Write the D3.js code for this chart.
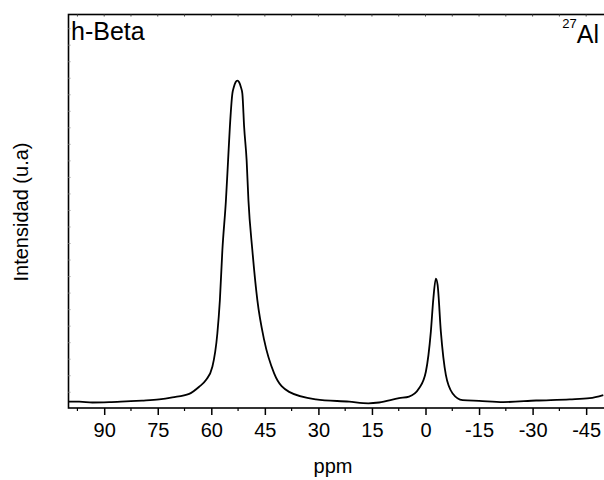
<!DOCTYPE html>
<html>
<head>
<meta charset="utf-8">
<script src="https://cdn.jsdelivr.net/npm/d3@7"></script>
<style>
  body { margin: 0; background: #fff; }
  svg { display: block; }
  svg text { font-family: Arial, "Liberation Sans", sans-serif; fill: #000; }
</style>
</head>
<body>
<div class="canvas"></div>
<script>
// spectrum: chemical shift (ppm) and intensity (a.u.)
const shift = [100, 97, 93.3, 88.6, 83.9, 79.4, 74.6, 70.9, 66.2, 63.4, 61.5, 59.7,
  58.3, 57.6, 56.9, 55.9, 55.3, 54.8, 54.1, 53.7, 53.2, 52.7, 52.2, 51.7, 51.3, 50.8,
  50.1, 49.6, 48.5, 47.1, 45.2, 42.4, 38.2, 30.7, 21.4, 16, 13, 7.4, 4.6, 1.8, -0.1,
  -1.5, -2.2, -2.9, -3.4, -4.3, -5.7, -7.6, -10.4, -15, -21.8, -31, -40.4, -46, -49.8];
const intensity = [1.6, 1.6, 1.4, 1.5, 1.7, 1.9, 2.2, 2.7, 3.6, 5.4, 7.1, 10.5,
  19.0, 27.4, 40.1, 52.8, 62.9, 71.4, 79.9, 81.5, 82.8, 83.2, 82.8, 81.5, 79.9, 71.4,
  62.9, 52.8, 40.1, 27.4, 17.3, 8.8, 4.1, 2.2, 1.6, 1.2, 1.4, 2.5, 2.9, 5.0, 9.2,
  19.4, 27.8, 32.9, 31.2, 19.4, 8.4, 3.7, 2.0, 1.8, 1.5, 1.9, 2.2, 2.5, 3.3];
const xTicks = [90, 75, 60, 45, 30, 15, 0, -15, -30, -45];
const xMinor = [97.5, 82.5, 67.5, 52.5, 37.5, 22.5, 7.5, -7.5, -22.5, -37.5];

const width = 604;
const height = 480;
const margin = { top: 14.5, right: 0, bottom: 72, left: 68.5 };
const innerWidth = width - margin.left - margin.right;
const innerHeight = height - margin.top - margin.bottom;

const svg = d3
  .select(".canvas")
  .append("svg")
  .attr("width", width)
  .attr("height", height);

const x = d3.scaleLinear().domain([100, -50]).range([margin.left, width]);
const y = d3.scaleLinear().domain([0, 100]).range([height - margin.bottom, margin.top]);

// spectrum
const line = d3
  .line()
  .x((d) => x(d[0]))
  .y((d) => y(d[1]))
  .curve(d3.curveMonotoneX);

svg
  .append("path")
  .datum(d3.zip(shift, intensity))
  .attr("fill", "none")
  .attr("stroke", "#000")
  .attr("stroke-width", 1.8)
  .attr("d", line);

// frame
svg
  .append("rect")
  .attr("x", margin.left)
  .attr("y", margin.top)
  .attr("width", innerWidth + 2)
  .attr("height", innerHeight)
  .attr("fill", "none")
  .attr("stroke", "#000")
  .attr("stroke-width", 1.6);

// bottom axis
const bottom = svg
  .append("g")
  .attr("transform", `translate(0, ${height - margin.bottom})`);

bottom
  .call(d3.axisBottom(x).tickValues(xTicks).tickSize(7).tickPadding(8).tickFormat((d) => String(d)))
  .call((g) => g.select(".domain").remove())
  .call((g) => g.selectAll(".tick line").attr("stroke-width", 1.5))
  .call((g) => g.selectAll(".tick text").attr("font-size", 20).attr("font-family", "Arial, 'Liberation Sans', sans-serif"));

bottom
  .selectAll(".minor")
  .data(xMinor)
  .enter()
  .append("line")
  .attr("x1", x)
  .attr("x2", x)
  .attr("y1", 0)
  .attr("y2", 3)
  .attr("stroke", "#000")
  .attr("stroke-width", 1.2);

// small inner ticks on top
svg
  .append("g")
  .selectAll("line")
  .data(xTicks.concat(xMinor))
  .enter()
  .append("line")
  .attr("x1", x)
  .attr("x2", x)
  .attr("y1", margin.top)
  .attr("y2", margin.top + 2)
  .attr("stroke", "#444")
  .attr("stroke-width", 1);

// faint inner ticks on the left
svg
  .append("g")
  .selectAll("line")
  .data(d3.range(4, 100, 4.2))
  .enter()
  .append("line")
  .attr("x1", margin.left)
  .attr("x2", margin.left + 2)
  .attr("y1", y)
  .attr("y2", y)
  .attr("stroke", "#999")
  .attr("stroke-width", 1);

// labels
svg
  .append("text")
  .attr("x", 333)
  .attr("y", 473)
  .attr("text-anchor", "middle")
  .attr("font-size", 20)
  .text("ppm");

svg
  .append("text")
  .attr("transform", `translate(28, 212) rotate(-90)`)
  .attr("text-anchor", "middle")
  .attr("font-size", 20)
  .text("Intensidad (u.a)");

svg
  .append("text")
  .attr("x", 71)
  .attr("y", 39.5)
  .attr("font-size", 25)
  .text("h-Beta");

const nucleus = svg
  .append("text")
  .attr("x", 599)
  .attr("y", 42.5)
  .attr("text-anchor", "end")
  .attr("font-size", 25);
nucleus.append("tspan").attr("font-size", 13).attr("dy", -15).text("27");
nucleus.append("tspan").attr("dy", 15).text("Al");
</script>
</body>
</html>
